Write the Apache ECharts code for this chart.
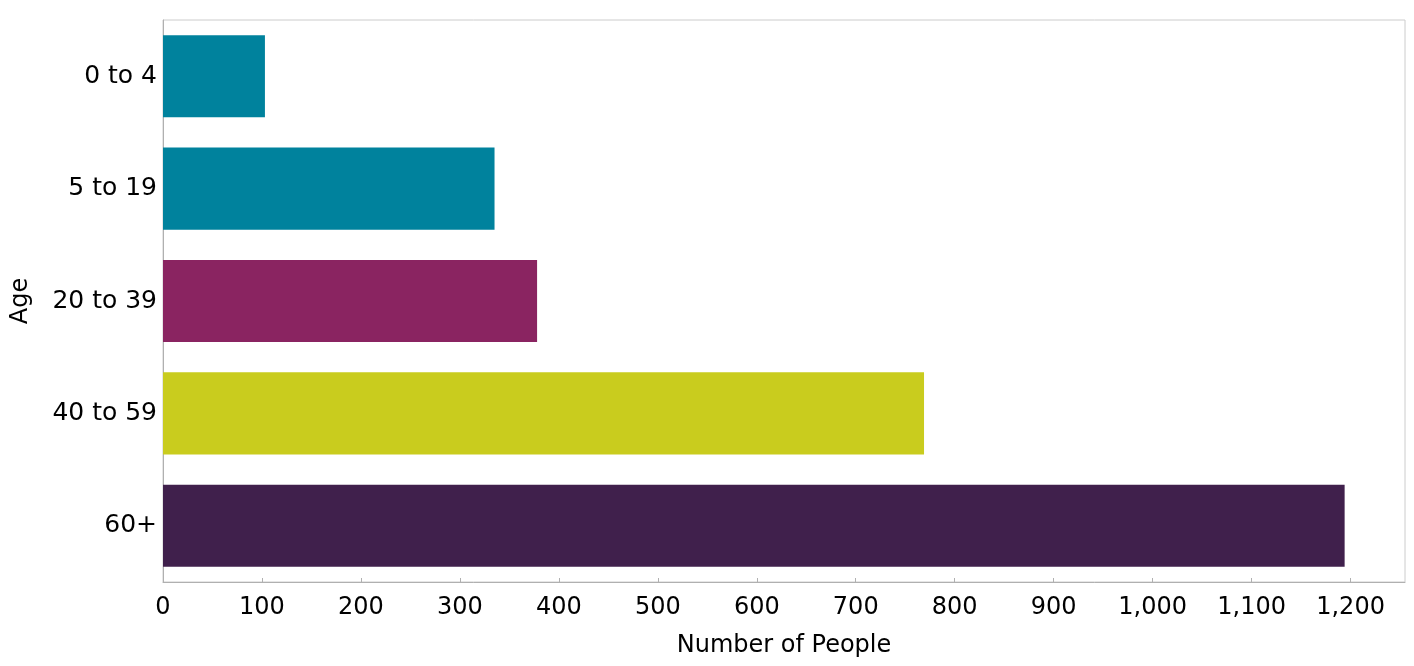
<!DOCTYPE html>
<html>
<head>
<meta charset="utf-8">
<script src="https://cdn.jsdelivr.net/npm/echarts@6/dist/echarts.min.js"></script>
<style>
html,body{margin:0;padding:0;background:#fff;}
#chart{width:1414px;height:666px;}
</style>
</head>
<body>
<div id="chart"></div>
<script>
const categories = ['0 to 4', '5 to 19', '20 to 39', '40 to 59', '60+'];
const values = [103, 335, 378, 769, 1194];
const barColors = ['#00829d', '#00829d', '#8a2461', '#c9cc1e', '#40204c'];
const xAxisTitle = 'Number of People';
const yAxisTitle = 'Age';

const chart = echarts.init(document.getElementById('chart'));
const font = 'DejaVu Sans';
chart.setOption({
  animation: false,
  backgroundColor: '#fff',
  grid: {
    left: 163, right: 9, top: 20, bottom: 84,
    show: true, borderColor: '#cccccc', borderWidth: 1, backgroundColor: 'transparent'
  },
  xAxis: {
    type: 'value',
    min: 0, max: 1255, interval: 100,
    name: xAxisTitle,
    nameLocation: 'middle',
    nameGap: 52,
    nameTextStyle: { fontFamily: font, fontSize: 24, color: '#000' },
    axisLine: { show: true, lineStyle: { color: '#b0b0b0' } },
    axisTick: { show: true, inside: true, length: 4, lineStyle: { color: '#b0b0b0' } },
    splitLine: { show: false },
    axisLabel: {
      fontFamily: font, fontSize: 24, color: '#000', margin: 14,
      showMaxLabel: false,
      formatter: v => (v % 100 === 0 ? v.toLocaleString('en-US') : '')
    }
  },
  yAxis: {
    type: 'category',
    inverse: true,
    data: categories,
    name: yAxisTitle,
    nameLocation: 'middle',
    nameGap: 130,
    nameTextStyle: { fontFamily: font, fontSize: 24, color: '#000' },
    axisLine: { show: true, lineStyle: { color: '#b0b0b0' } },
    axisTick: { show: false },
    axisLabel: { fontFamily: font, fontSize: 25, color: '#000', margin: 6 }
  },
  series: [{
    type: 'bar',
    barCategoryGap: '27%',
    data: values.map((v, i) => ({ value: v, itemStyle: { color: barColors[i] } }))
  }]
});
</script>
</body>
</html>
